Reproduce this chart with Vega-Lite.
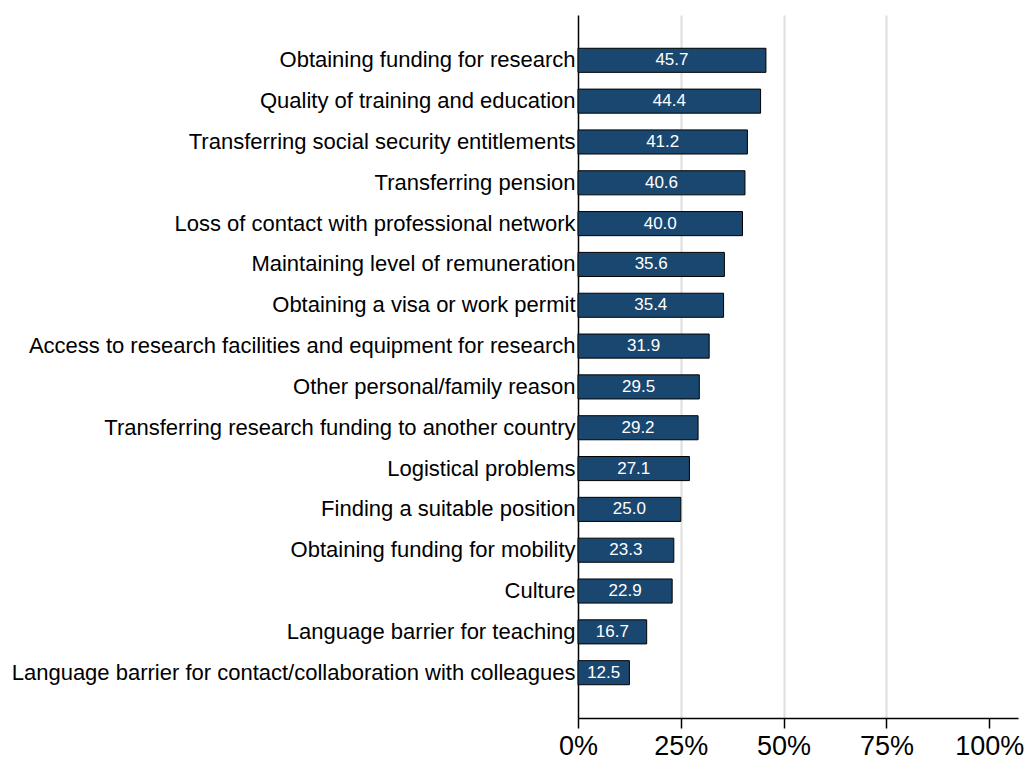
{
  "$schema": "https://vega.github.io/schema/vega-lite/v6.json",
  "autosize": {"type": "none"},
  "padding": {"left": 578, "top": 15, "right": 9, "bottom": 44},
  "width": 440,
  "height": 703,
  "background": "white",
  "config": {"view": {"stroke": null}, "font": "Liberation Sans"},
  "data": {"values": [
    {"reason": "Obtaining funding for research", "pct": 45.7},
    {"reason": "Quality of training and education", "pct": 44.4},
    {"reason": "Transferring social security entitlements", "pct": 41.2},
    {"reason": "Transferring pension", "pct": 40.6},
    {"reason": "Loss of contact with professional network", "pct": 40.0},
    {"reason": "Maintaining level of remuneration", "pct": 35.6},
    {"reason": "Obtaining a visa or work permit", "pct": 35.4},
    {"reason": "Access to research facilities and equipment for research", "pct": 31.9},
    {"reason": "Other personal/family reason", "pct": 29.5},
    {"reason": "Transferring research funding to another country", "pct": 29.2},
    {"reason": "Logistical problems", "pct": 27.1},
    {"reason": "Finding a suitable position", "pct": 25.0},
    {"reason": "Obtaining funding for mobility", "pct": 23.3},
    {"reason": "Culture", "pct": 22.9},
    {"reason": "Language barrier for teaching", "pct": 16.7},
    {"reason": "Language barrier for contact/collaboration with colleagues", "pct": 12.5}
  ]},
  "transform": [{"calculate": "datum.pct / 2", "as": "mid"}],
  "encoding": {
    "y": {
      "field": "reason", "type": "nominal", "sort": null,
      "scale": {"paddingInner": 0.41, "paddingOuter": 0.815},
      "axis": {
        "title": null, "ticks": false, "labelFontSize": 22, "labelColor": "black",
        "labelPadding": 3, "labelLimit": 700, "domainColor": "black", "domainWidth": 1.5,
        "labelFont": "Liberation Sans"
      }
    }
  },
  "layer": [
    {
      "mark": {"type": "bar", "color": "#1a476f", "stroke": "black", "strokeWidth": 1},
      "encoding": {
        "x": {
          "field": "pct", "type": "quantitative",
          "scale": {"domain": [0, 107], "nice": false, "zero": true},
          "axis": {
            "title": null, "values": [0, 25, 50, 75, 100],
            "labelExpr": "datum.value + '%'", "labelFlush": false,
            "labelFontSize": 27, "labelColor": "black", "labelFont": "Liberation Sans",
            "tickColor": "black", "tickSize": 10, "tickWidth": 1.5, "labelPadding": 5,
            "domainColor": "black", "domainWidth": 1.5,
            "grid": true, "gridWidth": 2,
            "gridColor": {"condition": {"test": "datum.value == 0 || datum.value == 100", "value": "transparent"}, "value": "#dedede"}
          }
        }
      }
    },
    {
      "mark": {"type": "text", "color": "white", "fontSize": 17, "align": "center", "baseline": "middle", "font": "Liberation Sans"},
      "encoding": {
        "x": {"field": "mid", "type": "quantitative"},
        "text": {"field": "pct", "type": "quantitative", "format": ".1f"}
      }
    }
  ]
}
